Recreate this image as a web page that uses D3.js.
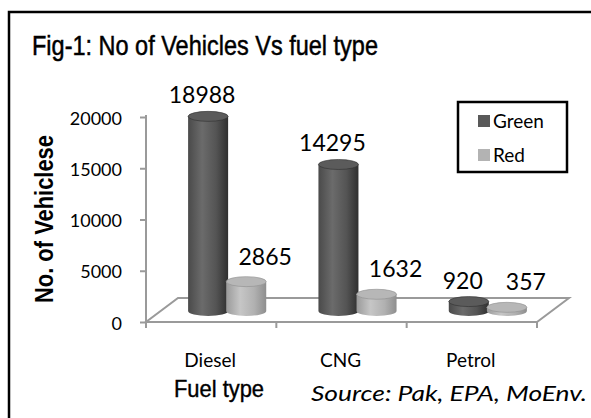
<!DOCTYPE html>
<html>
<head>
<meta charset="utf-8">
<script src="https://cdn.jsdelivr.net/npm/d3@7"></script>
<style>
  html, body { margin: 0; padding: 0; background: #fff; }
  svg { display: block; }
</style>
</head>
<body>
<svg id="chart" width="591" height="418"></svg>
<script>
// ---------------------------------------------------------------------------
// Data
// ---------------------------------------------------------------------------

const categories  = ['Diesel', 'CNG', 'Petrol'];
const seriesNames = ['Green', 'Red'];
const greenValues = [18988, 14295, 920];
const redValues   = [2865, 1632, 357];
const yTicks      = [0, 5000, 10000, 15000, 20000];

const titleText  = 'Fig-1: No of Vehicles Vs fuel type';
const yTitleText = 'No. of Vehiclese';
const xTitleText = 'Fuel type';
const sourceText = 'Source: Pak, EPA, MoEnv.';

// ---------------------------------------------------------------------------
// Setup
// ---------------------------------------------------------------------------

const NARROW = "'Liberation Sans Narrow','Arial Narrow','Liberation Sans',sans-serif";
const BODY   = "Lato,'Open Sans',sans-serif";
const AXIS_GRAY = '#9a9a9a';

const svg = d3.select('#chart');
const defs = svg.append('defs');

// outer frame (runs off the right and bottom edge of the picture)
svg.append('rect')
  .attr('x', 9).attr('y', 12).attr('width', 620).attr('height', 440)
  .attr('fill', 'none').attr('stroke', '#000').attr('stroke-width', 2.5);

const x0 = d3.scaleBand().domain(categories).range([146, 537]).padding(0);
const x1 = d3.scaleBand().domain(seriesNames).range([0, x0.bandwidth()])
  .paddingInner(0).paddingOuter(0.71);
const y = d3.scaleLinear().domain([0, 20000]).range([322, 117]);

// 3D floor depth (full) and the offset of the bars (half way back)
const depth = { dx: 32, dy: -24 };
const barOff = { dx: depth.dx / 2, dy: depth.dy / 2 + 1 };

const rows = seriesNames.map((s, si) => ({
  name: s,
  values: (si === 0 ? greenValues : redValues)
}));

// gradients for the cylinders
const shades = {
  Green: { body: ['#4a4a4a', '#6b6b6b', '#545454', '#2f2f2f'], top: '#5b5b5b', swatch: '#595959' },
  Red:   { body: ['#9a9a9a', '#c6c6c6', '#b1b1b1', '#8e8e8e'], top: '#b7b7b7', swatch: '#b3b3b3' }
};
seriesNames.forEach(s => {
  const g = defs.append('linearGradient').attr('id', 'grad-' + s)
    .attr('x1', 0).attr('x2', 1).attr('y1', 0).attr('y2', 0);
  [0, 0.35, 0.7, 1].forEach((o, i) =>
    g.append('stop').attr('offset', o).attr('stop-color', shades[s].body[i]));
});

// ---------------------------------------------------------------------------
// Floor and axes
// ---------------------------------------------------------------------------

const [fx0, fx1] = x0.range();
const fy = y(0);
svg.append('path')
  .attr('d', `M${fx0},${fy} L${fx1},${fy} L${fx1 + depth.dx},${fy + depth.dy} ` +
             `L${fx0 + depth.dx},${fy + depth.dy} Z`)
  .attr('fill', 'none').attr('stroke', AXIS_GRAY).attr('stroke-width', 2);

const yAxis = svg.append('g').attr('transform', `translate(${fx0},0)`)
  .call(d3.axisLeft(y).tickValues(yTicks).tickSize(6).tickSizeOuter(0).tickPadding(18)
    .tickFormat(d3.format('d')));
yAxis.select('.domain').attr('stroke', AXIS_GRAY).attr('stroke-width', 2)
  .attr('d', `M0,${y(20000) - 2}V${fy + 6}`);
yAxis.selectAll('.tick line').attr('stroke', AXIS_GRAY).attr('stroke-width', 2);
yAxis.selectAll('.tick text')
  .attr('font-family', BODY).attr('font-size', 18).attr('fill', '#000')
  .attr('dy', 7);

// category ticks on the front edge of the floor
const bounds = categories.map(c => x0(c)).concat([fx1]);
svg.selectAll('.xtick').data(bounds.slice(1)).join('line')
  .attr('class', 'xtick')
  .attr('x1', d => d).attr('x2', d => d)
  .attr('y1', fy).attr('y2', fy + 6)
  .attr('stroke', AXIS_GRAY).attr('stroke-width', 2);

svg.selectAll('.xlabel').data(categories).join('text')
  .attr('class', 'xlabel')
  .attr('x', d => x0(d) + x0.bandwidth() / 2 - 1).attr('y', 367)
  .attr('text-anchor', 'middle')
  .attr('font-family', BODY).attr('font-size', 19).attr('fill', '#000')
  .text(d => d);

// ---------------------------------------------------------------------------
// Cylinders
// ---------------------------------------------------------------------------

const rx = x1.bandwidth() * 1.05 / 2;
const ry = 5;
const labelShift = { Green: { dx: -6, dy: -8 }, Red: { dx: 19, dy: -12 } };

const bars = [];
categories.forEach((c, ci) => {
  rows.forEach(r => {
    bars.push({
      cat: c, series: r.name, value: r.values[ci],
      cx: x0(c) + x1(r.name) + x1.bandwidth() / 2 + barOff.dx,
      yBase: y(0) + barOff.dy,
      yTop: y(r.values[ci]) + barOff.dy
    });
  });
});

const barG = svg.append('g');
bars.forEach(b => {
  barG.append('path')
    .attr('d', `M${b.cx - rx},${b.yTop} L${b.cx - rx},${b.yBase} ` +
               `A${rx},${ry} 0 0 0 ${b.cx + rx},${b.yBase} L${b.cx + rx},${b.yTop} Z`)
    .attr('fill', `url(#grad-${b.series})`);
  barG.append('ellipse')
    .attr('cx', b.cx).attr('cy', b.yTop).attr('rx', rx).attr('ry', ry)
    .attr('fill', shades[b.series].top)
    .attr('stroke', shades[b.series].body[3]).attr('stroke-width', 0.6);
});

svg.selectAll('.vlabel').data(bars).join('text')
  .attr('class', 'vlabel')
  .attr('x', d => d.cx + labelShift[d.series].dx)
  .attr('y', d => d.yTop - ry + labelShift[d.series].dy)
  .attr('text-anchor', 'middle')
  .attr('font-family', BODY).attr('font-size', 23).attr('fill', '#000')
  .text(d => d.value);

// ---------------------------------------------------------------------------
// Legend
// ---------------------------------------------------------------------------

const legend = svg.append('g');
legend.append('rect')
  .attr('x', 458).attr('y', 102).attr('width', 109).attr('height', 70)
  .attr('fill', '#fff').attr('stroke', '#000').attr('stroke-width', 2.5);
seriesNames.forEach((s, i) => {
  const ly = 121 + i * 34;
  legend.append('rect')
    .attr('x', 478).attr('y', ly - 6).attr('width', 12).attr('height', 12)
    .attr('fill', shades[s].swatch);
  legend.append('text')
    .attr('x', 493).attr('y', ly + 6.5)
    .attr('font-family', BODY).attr('font-size', 19).attr('fill', '#000')
    .text(s);
});

// ---------------------------------------------------------------------------
// Titles
// ---------------------------------------------------------------------------

svg.append('text')
  .attr('x', 32).attr('y', 55)
  .attr('font-family', NARROW).attr('font-size', 28).attr('fill', '#000')
  .attr('stroke', '#000').attr('stroke-width', 0.5)
  .attr('textLength', 346).attr('lengthAdjust', 'spacingAndGlyphs')
  .text(titleText);

svg.append('text')
  .attr('transform', 'translate(53,219) rotate(-90)')
  .attr('text-anchor', 'middle')
  .attr('font-family', NARROW).attr('font-size', 25).attr('font-weight', 'bold')
  .attr('fill', '#000')
  .attr('textLength', 168).attr('lengthAdjust', 'spacingAndGlyphs')
  .text(yTitleText);

svg.append('text')
  .attr('x', 174).attr('y', 397)
  .attr('font-family', NARROW).attr('font-size', 24).attr('fill', '#000')
  .attr('stroke', '#000').attr('stroke-width', 0.4)
  .attr('textLength', 90).attr('lengthAdjust', 'spacingAndGlyphs')
  .text(xTitleText);

svg.append('text')
  .attr('x', 311).attr('y', 401)
  .attr('font-family', BODY).attr('font-size', 22).attr('font-style', 'italic')
  .attr('fill', '#000')
  .attr('textLength', 276).attr('lengthAdjust', 'spacingAndGlyphs')
  .text(sourceText);
</script>
</body>
</html>
